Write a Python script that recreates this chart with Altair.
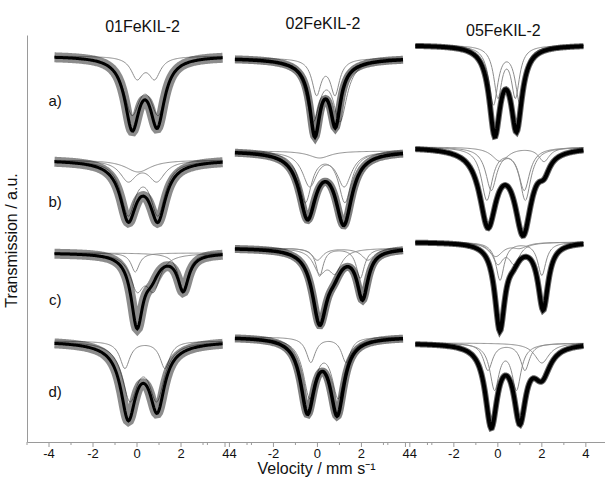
import altair as alt
import numpy as np
import pandas as pd

# ---------------- values ----------------
COLUMN_TITLES = ["01FeKIL-2", "02FeKIL-2", "05FeKIL-2"]
ROW_LABELS = ["a)", "b)", "c)", "d)"]
COLUMN_OFFSET = [0.0, 8.2, 16.4]          # shift of each panel on the shared velocity axis
V_RANGE = [-3.75, 3.9]                    # measured velocity window (mm/s)

# baseline (off-resonance transmission, a.u.) rows a-d x columns 01/02/05
BASELINE = [
    [386, 384, 397],
    [282, 291, 295],
    [189, 194, 200],
    [101, 105, 99],
]

# Measured spectra: absorption lines (position mm/s, depth a.u., FWHM mm/s)
spec_01a = [(-0.22, 68, 0.8), (0.92, 65, 0.8)]
spec_01b = [(-0.40, 53, 0.85), (0.95, 53, 0.85), (0.30, 6, 2.5)]
spec_01c = [(0.00, 70, 0.65), (0.65, 18, 0.8), (2.10, 36, 0.6)]
spec_01d = [(-0.40, 68, 0.8), (0.92, 60, 0.8), (0.25, 8, 3.0)]
spec_02a = [(-0.12, 66, 0.55), (0.82, 56, 0.55), (0.35, 10, 2.4)]
spec_02b = [(-0.45, 64, 0.9), (1.20, 70, 0.9)]
spec_02c = [(0.10, 72, 0.8), (0.75, 15, 0.8), (2.05, 48, 0.6)]
spec_02d = [(-0.45, 72, 0.75), (0.90, 74, 0.75)]
spec_05a = [(-0.14, 85, 0.6), (0.85, 80, 0.6)]
spec_05b = [(-0.45, 75, 0.9), (1.15, 82, 0.9), (2.10, 15, 0.6)]
spec_05c = [(0.09, 85, 0.55), (0.70, 12, 0.7), (2.06, 66, 0.55)]
spec_05d = [(-0.30, 80, 0.65), (1.00, 72, 0.65), (2.00, 30, 0.9)]

# Fitted sub-spectra (each a list of lines)
fit_01a = [[(0.00, 21, 0.65), (0.80, 21, 0.65)], [(-0.23, 53, 0.9), (0.97, 53, 0.9)]]
fit_01b = [[(0.05, 12, 1.4)], [(-0.40, 20, 0.9), (0.90, 20, 0.9)], [(-0.40, 52, 0.8), (0.95, 52, 0.8)]]
fit_01c = [[(-0.08, 19, 0.45)], [(0.00, 33, 0.75), (0.75, 33, 0.75)], [(2.10, 37, 0.55)]]
fit_01d = [[(-0.55, 27, 0.55), (1.27, 27, 0.55)], [(-0.32, 55, 0.85), (0.90, 55, 0.85)]]
fit_02a = [[(-0.04, 35, 0.5), (0.80, 35, 0.5)], [(-0.20, 59, 0.75), (1.03, 59, 0.75)]]
fit_02b = [[(0.10, 7, 1.2)], [(-0.35, 34, 0.8), (1.22, 34, 0.8)], [(-0.55, 50, 0.7), (1.25, 50, 0.7)]]
fit_02c = [[(0.10, 28, 0.4), (1.95, 30, 0.45)], [(0.10, 22, 0.7), (0.80, 22, 0.7)], [(0.00, 12, 0.6), (2.30, 12, 0.7)]]
fit_02d = [[(-0.30, 25, 0.5), (1.30, 25, 0.5)], [(-0.35, 58, 0.7), (0.95, 58, 0.7)]]
fit_05a = [[(-0.20, 58, 0.5), (1.00, 56, 0.5)], [(0.00, 50, 0.45), (0.80, 50, 0.45)]]
fit_05b = [[(0.10, 14, 0.9), (2.10, 14, 0.6)], [(-0.30, 42, 0.6), (1.20, 42, 0.6)], [(-0.50, 52, 0.6), (1.25, 52, 0.6)]]
fit_05c = [[(0.10, 38, 0.45), (2.00, 33, 0.45)], [(0.00, 20, 0.6), (0.75, 20, 0.6)], [(-0.10, 14, 0.8), (1.00, 5, 0.8)]]
fit_05d = [[(-0.45, 27, 0.5), (1.23, 27, 0.5)], [(-0.15, 45, 0.5), (0.85, 45, 0.5)], [(2.00, 20, 0.8)]]

SPECTRA = [[spec_01a, spec_02a, spec_05a], [spec_01b, spec_02b, spec_05b],
           [spec_01c, spec_02c, spec_05c], [spec_01d, spec_02d, spec_05d]]
FITS = [[fit_01a, fit_02a, fit_05a], [fit_01b, fit_02b, fit_05b],
        [fit_01c, fit_02c, fit_05c], [fit_01d, fit_02d, fit_05d]]

# axis ticks (velocity per panel) and their printed labels
TICK_VELOCITIES = [-5, -4, -3, -2, -1, 0, 1, 2, 3, 4, 5]
LABELED_TICKS = [(0, -4), (0, -2), (0, 0), (0, 2), (1, -4), (1, -2), (1, 0), (1, 2),
                 (2, -4), (2, -2), (2, 0), (2, 2), (2, 4)]
TICK_LABELS = ["-4", "-2", "0", "2", "44", "-2", "0", "2", "44", "-2", "0", "2", "4"]

ROW_LABEL_Y = [341, 240, 142, 50]
TITLE_Y = [415, 418, 411]

X_DOMAIN = [-5.0, 21.27]

# scatter spread of the measured points (noisier for the dilute samples)
CLOUD_WIDTH = [10, 8, 6]
CLOUD_OPACITY = [0.45, 0.5, 0.6]
CORE_WIDTH = [3.0, 3.5, 4.0]

# ---------------- build tables ----------------
def lorentz_sum(v, lines):
    out = np.zeros_like(v)
    for pos, depth, fwhm in lines:
        out += depth / (1.0 + ((v - pos) / (fwhm / 2.0)) ** 2)
    return out

v = np.round(np.arange(V_RANGE[0], V_RANGE[1] + 1e-9, 0.04), 3)
spec_rows, fit_rows = [], []
for r in range(4):
    for c in range(3):
        base = BASELINE[r][c]
        key = f"{c}{r}"
        y = base - lorentz_sum(v, SPECTRA[r][c])
        for vi, yi in zip(v, y):
            spec_rows.append({"u": vi + COLUMN_OFFSET[c], "y": yi, "panel": key,
                              "cw": CLOUD_WIDTH[c], "co": CLOUD_OPACITY[c],
                              "kw": CORE_WIDTH[c]})
        for k, comp in enumerate(FITS[r][c]):
            yc = base - lorentz_sum(v, comp)
            for vi, yi in zip(v, yc):
                fit_rows.append({"u": vi + COLUMN_OFFSET[c], "y": yi, "curve": f"{key}_{k}"})
spec_df = pd.DataFrame(spec_rows)
fit_df = pd.DataFrame(fit_rows)

tick_rows = []
for c in range(3):
    for t in TICK_VELOCITIES:
        u = round(t + COLUMN_OFFSET[c], 2)
        if X_DOMAIN[0] <= u <= X_DOMAIN[1]:
            tick_rows.append({"u": u, "major": t % 2 == 0})
tick_df = pd.DataFrame(tick_rows)
label_df = pd.DataFrame({
    "u": [round(t + COLUMN_OFFSET[c], 2) for c, t in LABELED_TICKS],
    "t": TICK_LABELS,
})

title_df = pd.DataFrame({"u": [0.25 + o for o in COLUMN_OFFSET], "y": TITLE_Y, "t": COLUMN_TITLES})
row_df = pd.DataFrame({"u": [-3.72] * 4, "y": ROW_LABEL_Y, "t": ROW_LABELS})

FONT = "Liberation Sans"
AXIS_GRAY = "#9a9a9a"
x_enc = alt.X("u:Q", scale=alt.Scale(domain=X_DOMAIN, nice=False, zero=False),
              axis=alt.Axis(ticks=False, labels=False, grid=False, domainColor=AXIS_GRAY,
                            title="Velocity / mm s⁻¹", titleFont=FONT, titleFontSize=16,
                            titleFontWeight="normal", titleColor="#111111", titlePadding=18))
y_enc = alt.Y("y:Q", scale=alt.Scale(domain=[0, 407], nice=False, zero=False),
              axis=alt.Axis(ticks=False, labels=False, grid=False, domainColor=AXIS_GRAY,
                            title="Transmission / a.u.", titleFont=FONT, titleFontSize=16,
                            titleFontWeight="normal", titleColor="#111111",
                            titleX=-8, titleY=205))

fits = alt.Chart(fit_df).mark_line(color="#8c8c8c", strokeWidth=1).encode(
    x=x_enc, y=y_enc, detail="curve:N", order="u:Q")
halo = alt.Chart(spec_df).mark_line(color="black").encode(
    x="u:Q", y="y:Q", detail="panel:N", order="u:Q",
    size=alt.Size("cw:Q", scale=None, legend=None),
    opacity=alt.Opacity("co:Q", scale=None, legend=None))
core = alt.Chart(spec_df).mark_line(color="black").encode(
    x="u:Q", y="y:Q", detail="panel:N", order="u:Q",
    size=alt.Size("kw:Q", scale=None, legend=None))
major_ticks = alt.Chart(tick_df).transform_filter("datum.major").mark_rule(
    color=AXIS_GRAY, strokeWidth=1).encode(x="u:Q", y=alt.value(407), y2=alt.value(412))
minor_ticks = alt.Chart(tick_df).transform_filter("!datum.major").mark_rule(
    color=AXIS_GRAY, strokeWidth=1).encode(x="u:Q", y=alt.value(407), y2=alt.value(410))
tick_text = alt.Chart(label_df).mark_text(font=FONT, fontSize=13, color="#111111",
                                          baseline="top").encode(
    x="u:Q", y=alt.value(413), text="t:N")
titles = alt.Chart(title_df).mark_text(font=FONT, fontSize=16, color="#111111").encode(
    x="u:Q", y="y:Q", text="t:N")
rows = alt.Chart(row_df).mark_text(font=FONT, fontSize=15, color="#111111").encode(
    x="u:Q", y="y:Q", text="t:N")

chart = alt.layer(fits, halo, core, major_ticks, minor_ticks, tick_text, titles, rows).properties(
    width=578, height=407,
    autosize=alt.AutoSizeParams(type="none"),
    padding={"left": 27, "top": 35, "right": 0, "bottom": 35},
).configure_view(stroke=None)

chart.save("out.html", embed_options={"renderer": "svg", "actions": False})
